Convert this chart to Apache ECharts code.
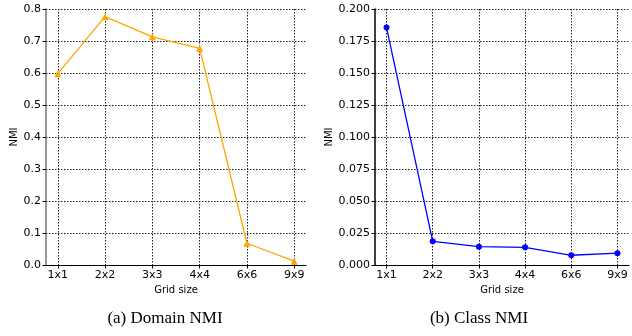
<!DOCTYPE html>
<html>
<head>
<meta charset="utf-8">
<script src="https://cdn.jsdelivr.net/npm/echarts@6/dist/echarts.min.js"></script>
<style>
  html, body { margin: 0; padding: 0; background: #fff; }
  #chart { width: 632px; height: 336px; }
</style>
</head>
<body>
<div id="chart"></div>
<script>
const gridSizes = ['1x1', '2x2', '3x3', '4x4', '6x6', '9x9']
const domainNmi = [0.598, 0.776, 0.713, 0.677, 0.068, 0.012]
const classNmi = [0.1855, 0.0185, 0.0143, 0.0138, 0.0076, 0.0092]
const domainTicks = [0, 0.1, 0.2, 0.3, 0.4, 0.5, 0.6, 0.7, 0.8]
const classTicks = [0, 0.025, 0.05, 0.075, 0.1, 0.125, 0.15, 0.175, 0.2]

const positions = gridSizes.map((_, i) => i)
const font = 'DejaVu Sans'
const gridLine = { show: true, lineStyle: { color: '#222', type: [1.5, 1.5], width: 1 } }

function xAxis(gridIndex) {
  return {
    type: 'value',
    gridIndex,
    min: -0.25,
    max: 5.25,
    name: 'Grid size',
    nameLocation: 'middle',
    nameGap: 20,
    nameTextStyle: { fontFamily: font, fontSize: 10, color: '#000' },
    axisLine: { show: true, onZero: false, lineStyle: { color: '#000', width: 1.2 } },
    axisTick: { show: true, length: 3.5, customValues: positions, lineStyle: { color: '#000' } },
    axisLabel: {
      customValues: positions,
      margin: 5,
      fontFamily: font,
      fontSize: 11,
      color: '#000',
      formatter: (v) => gridSizes[Math.round(v)],
    },
    splitLine: gridLine,
  }
}

function yAxis(gridIndex, ticks, digits, spineColor, gap) {
  return {
    type: 'value',
    gridIndex,
    min: ticks[0],
    max: ticks[ticks.length - 1],
    interval: ticks[1] - ticks[0],
    name: 'NMI',
    nameLocation: 'middle',
    nameGap: gap,
    nameTextStyle: { fontFamily: font, fontSize: 10, color: '#000' },
    axisLine: { show: true, onZero: false, lineStyle: { color: spineColor, width: 1.5 } },
    axisTick: { show: true, length: 3.5, lineStyle: { color: '#000' } },
    axisLabel: {
      margin: 5,
      fontFamily: font,
      fontSize: 11,
      color: '#000',
      formatter: (v) => v.toFixed(digits),
    },
    splitLine: gridLine,
  }
}

const chart = echarts.init(document.getElementById('chart'), null, { renderer: 'canvas' })
chart.setOption({
  animation: false,
  backgroundColor: '#fff',
  title: [
    {
      text: '(a) Domain NMI',
      left: 160, top: 305, textAlign: 'center',
      textStyle: { fontFamily: 'Liberation Serif', fontSize: 17, fontWeight: 'normal', color: '#000' },
    },
    {
      text: '(b) Class NMI',
      left: 474, top: 305, textAlign: 'center',
      textStyle: { fontFamily: 'Liberation Serif', fontSize: 17, fontWeight: 'normal', color: '#000' },
    },
  ],
  grid: [
    { left: 46, right: 326, top: 9, bottom: 71 },
    { left: 375, right: 3, top: 9, bottom: 71 },
  ],
  xAxis: [xAxis(0), xAxis(1)],
  yAxis: [
    yAxis(0, domainTicks, 1, '#777', 25),
    yAxis(1, classTicks, 3, '#000', 38),
  ],
  series: [
    {
      type: 'line',
      xAxisIndex: 0,
      yAxisIndex: 0,
      data: domainNmi.map((v, i) => [i, v]),
      symbol: 'triangle',
      symbolSize: 7,
      lineStyle: { color: '#FFA500', width: 1.3 },
      itemStyle: { color: '#FFA500' },
    },
    {
      type: 'line',
      xAxisIndex: 1,
      yAxisIndex: 1,
      data: classNmi.map((v, i) => [i, v]),
      symbol: 'circle',
      symbolSize: 6,
      lineStyle: { color: '#0000FF', width: 1.3 },
      itemStyle: { color: '#0000FF' },
    },
  ],
})
</script>
</body>
</html>
